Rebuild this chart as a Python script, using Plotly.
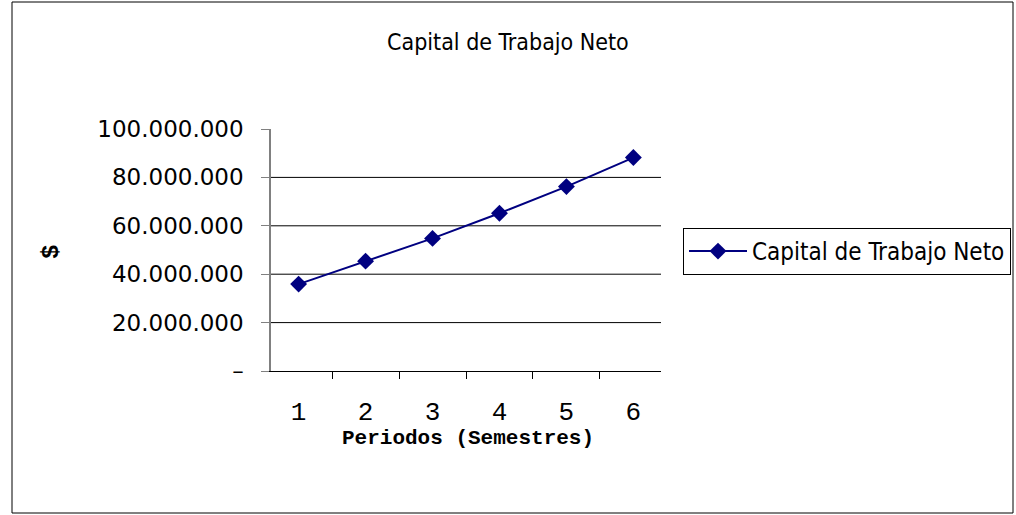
import plotly.graph_objects as go

periods = ["1", "2", "3", "4", "5", "6"]
capital = [35.9e6, 45.4e6, 54.8e6, 65.2e6, 76.2e6, 88.2e6]
y_ticks = [0, 20e6, 40e6, 60e6, 80e6, 100e6]
y_ticktext = ["–", "20.000.000", "40.000.000", "60.000.000", "80.000.000", "100.000.000"]
grid_values = [20e6, 40e6, 60e6, 80e6]

W, H = 1016, 515
px0, px1 = 271, 661
py_top, py_bot = 129, 371

fig = go.Figure()
fig.add_trace(go.Scatter(
    x=periods, y=capital, mode="lines+markers",
    name="Capital de Trabajo Neto",
    line=dict(color="#000080", width=2),
    marker=dict(symbol="diamond", size=13, color="#000080"),
))

for v in grid_values:
    fig.add_shape(type="line", xref="x domain", yref="y", x0=0, x1=1, y0=v, y1=v,
                  line=dict(color="black", width=1), layer="below")

# outer chart border
fig.add_shape(type="rect", xref="paper", yref="paper",
              x0=12 / W, x1=1013 / W, y0=1 - 513 / H, y1=1 - 2 / H,
              line=dict(color="black", width=1))

fig.update_layout(
    width=W, height=H, autosize=False,
    margin=dict(l=0, r=0, t=0, b=0, pad=0, autoexpand=False),
    paper_bgcolor="white", plot_bgcolor="white",
    showlegend=True,
    legend=dict(x=683 / W, y=1 - 228 / H, xanchor="left", yanchor="top",
                bordercolor="black", borderwidth=1,
                font=dict(family="Liberation Sans Narrow, DejaVu Sans Condensed", size=24, color="black"),
                itemwidth=58),
    xaxis=dict(domain=[px0 / W, px1 / W], type="category", tickson="boundaries",
               automargin=False,
               ticks="outside", ticklen=7, tickcolor="black", showline=True,
               linecolor="black", linewidth=1, showgrid=False,
               tickfont=dict(family="Liberation Mono", size=26, color="black"),
               ticklabelstandoff=17),
    yaxis=dict(domain=[1 - py_bot / H, 1 - py_top / H], range=[0, 100e6],
               automargin=False,
               tickvals=y_ticks, ticktext=y_ticktext, ticks="outside", ticklen=8,
               tickcolor="#808080", showline=True, linecolor="#808080", linewidth=1.5,
               showgrid=False, zeroline=False,
               tickfont=dict(family="DejaVu Sans", size=23, color="black"),
               ticklabelstandoff=13),
)

fig.add_annotation(text="Capital de Trabajo Neto", xref="paper", yref="paper",
                   x=508 / W, y=1 - 42 / H, xanchor="center", yanchor="middle", showarrow=False,
                   font=dict(family="Liberation Sans Narrow, DejaVu Sans Condensed", size=23, color="black"))
fig.add_annotation(text="<b>Periodos (Semestres)</b>", xref="paper", yref="paper",
                   x=468 / W, y=1 - 438 / H, xanchor="center", yanchor="middle", showarrow=False,
                   font=dict(family="Liberation Mono", size=21, color="black"))
fig.add_annotation(text="<b>$</b>", xref="paper", yref="paper",
                   x=52 / W, y=1 - 252 / H, xanchor="center", yanchor="middle", showarrow=False, textangle=-90,
                   font=dict(family="Liberation Mono", size=24, color="black"))

post = (
    "var de=document.documentElement, b=document.body, g=document.getElementById('{plot_id}');"
    "de.style.margin='0'; de.style.overflow='hidden';"
    "b.style.margin='0'; b.style.overflow='hidden';"
    "g.style.position='fixed'; g.style.top='0px'; g.style.left='0px';"
)
fig.write_html("out.html", config={"displayModeBar": False, "responsive": False}, post_script=post)
